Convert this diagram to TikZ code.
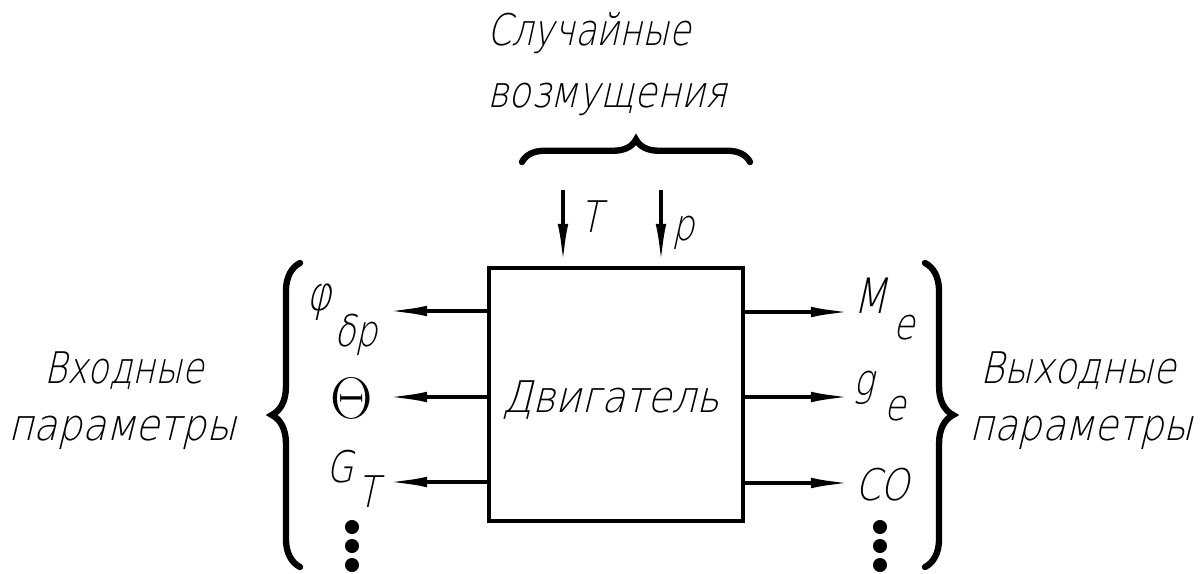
\documentclass[tikz,border=0pt]{standalone}
\usepackage{fontspec}
\setmainfont{DejaVu Sans ExtraLight}[FakeSlant=0.22,FakeStretch=0.8]
\usetikzlibrary{arrows.meta,decorations.pathreplacing}
\begin{document}
\begin{tikzpicture}[x=0.025cm,y=-0.025cm,
 lbl/.style={inner sep=0,font=\fontsize{31}{36}\selectfont},
 arr/.style={line width=2.8pt,-{Latex[length=30pt,width=7.5pt]}},
 brc/.style={line width=4.5pt,line cap=round,decorate,decoration={brace,amplitude=#1}},
 dotc/.style={circle,fill,inner sep=0,minimum size=10pt}]
\useasboundingbox (0,0) rectangle (1203,573);
% engine box
\node (eng) [draw,line width=2.8pt,minimum width=180.7pt,minimum height=180pt,inner sep=0] at (616,394.5) {};
\node (engt) [lbl,anchor=base,xscale=1.13] at (611,412) {Двигатель};
% top disturbances
\node (sl1) [lbl,anchor=base west] at (487,45) {Случайные};
\node (sl2) [lbl,anchor=base west,xscale=1.05] at (487,107) {возмущения};
\coordinate (bt1) at (522,162);
\coordinate (bt2) at (750,162);
\draw[brc=16pt] (bt1) -- (bt2);
\coordinate (aT) at (563,190);
\coordinate (ap) at (661,190);
\draw[arr] (aT) -- (aT |- eng.north);
\draw[arr] (ap) -- (ap |- eng.north);
\node (lT) [lbl,anchor=base west] at (580,232) {T};
\node (lp) [lbl,anchor=base west] at (672,240) {p};
% left outputs
\coordinate (l1) at (385,311);
\coordinate (l2) at (385,397);
\coordinate (l3) at (385,482);
\draw[arr] (eng.west |- l1) -- (l1);
\draw[arr] (eng.west |- l2) -- (l2);
\draw[arr] (eng.west |- l3) -- (l3);
\node (phi) [lbl,anchor=base west,scale=1.1] at (306,310) {φ};
\node (phis) [lbl,anchor=base west] at (334,346) {δp};
\node (th) [inner sep=0] at (352,398) {\scalebox{1.68}{\Huge$\Theta$}};
\node (gg) [lbl,anchor=base west] at (326,482) {G};
\node (ggs) [lbl,anchor=base west] at (357,507) {T};
\node (d1) [dotc] at (352,527) {};
\node (d2) [dotc] at (352,546) {};
\node (d3) [dotc] at (352,565) {};
% right outputs
\coordinate (r1) at (853,312);
\coordinate (r2) at (853,397);
\coordinate (r3) at (853,483);
\draw[arr] (eng.east |- r1) -- (r1);
\draw[arr] (eng.east |- r2) -- (r2);
\draw[arr] (eng.east |- r3) -- (r3);
\node (mm) [lbl,anchor=base west,scale=1.12] at (853,313) {M};
\node (mms) [lbl,anchor=base west] at (893,339) {e};
\node (ge) [lbl,anchor=base west] at (853,395) {g};
\node (ges) [lbl,anchor=base west] at (884,420) {e};
\node (co) [lbl,anchor=base west,xscale=1.05] at (855,500) {CO};
\node (e1) [dotc] at (880,527) {};
\node (e2) [dotc] at (880,546) {};
\node (e3) [dotc] at (880,565) {};
% side braces
\coordinate (lb1) at (300,567);
\coordinate (lb2) at (300,263);
\draw[brc=20pt] (lb1) -- (lb2);
\coordinate (rb1) at (925,263);
\coordinate (rb2) at (925,567);
\draw[brc=20pt] (rb1) -- (rb2);
\node (in1) [lbl,anchor=base] at (124,383) {Входные};
\node (in2) [lbl,anchor=base,xscale=1.12] at (122,440) {параметры};
\node (out1) [lbl,anchor=base,xscale=1.05] at (1078,383) {Выходные};
\node (out2) [lbl,anchor=base,xscale=1.1] at (1081,440) {параметры};
\end{tikzpicture}
\end{document}
